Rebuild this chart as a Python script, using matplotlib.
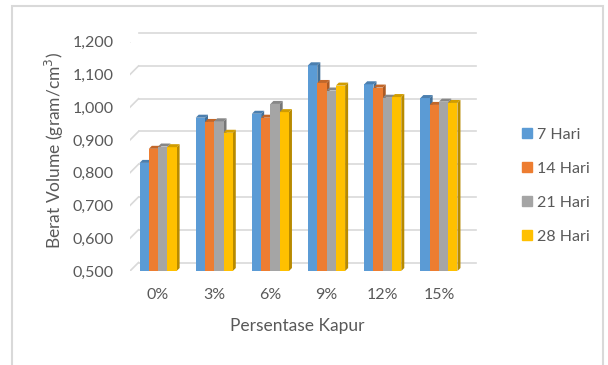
import matplotlib.pyplot as plt
from matplotlib.patches import Polygon, Patch, Rectangle
from matplotlib.transforms import offset_copy
import matplotlib.colors as mcolors
import numpy as np

plt.rcParams['font.family'] = ['Lato', 'DejaVu Sans']

categories = ['0%', '3%', '6%', '9%', '12%', '15%']
series = ['7 Hari', '14 Hari', '21 Hari', '28 Hari']
hari_7 = [0.830, 0.968, 0.980, 1.128, 1.070, 1.028]
hari_14 = [0.873, 0.955, 0.968, 1.074, 1.060, 1.007]
hari_21 = [0.880, 0.957, 1.010, 1.051, 1.029, 1.017]
hari_28 = [0.878, 0.922, 0.985, 1.066, 1.031, 1.013]
yticks = [0.5, 0.6, 0.7, 0.8, 0.9, 1.0, 1.1, 1.2]
ytick_labels = ['0,500', '0,600', '0,700', '0,800', '0,900', '1,000', '1,100', '1,200']

colors = ['#5B9BD5', '#ED7D31', '#A5A5A5', '#FFC000']
text_col = '#595959'
grid_col = '#D9D9D9'

W, H = 608, 365
fig = plt.figure(figsize=(W / 100, H / 100), dpi=100)
ax = fig.add_axes([130 / W, (H - 271) / H, 337 / W, (271 - 41.7) / H])
ax.set_xlim(-0.5, len(categories) - 0.5)
ax.set_ylim(0.5, 1.2)
for s in ax.spines.values():
    s.set_visible(False)
ax.tick_params(length=0, colors=text_col, labelsize=11.5)
ax.set_yticks(yticks)
ax.set_yticklabels(ytick_labels)
ax.tick_params(axis='y', pad=12)
ax.set_xticks(range(len(categories)))
ax.set_xticklabels(categories)
ax.tick_params(axis='x', pad=12)

# back wall gridlines, shifted up and right for depth
back = offset_copy(ax.transData, fig=fig, x=8.5, y=8.5, units='dots')
x0, x1 = ax.get_xlim()
for y in yticks:
    ax.plot([x0, x1], [y, y], color=grid_col, lw=1.2, transform=back,
            clip_on=False, zorder=0)
    # short diagonal linking the tick label to the back wall
    p0 = ax.transData.transform((x0, y))
    p1 = p0 + np.array([8.5, 8.5])
    ax.add_line(plt.Line2D([p0[0], p1[0]], [p0[1], p1[1]], color=grid_col,
                           lw=1.2, transform=None, zorder=0))

# 3D-looking clustered bars
data = [hari_7, hari_14, hari_21, hari_28]
w = 0.165
ppx = ax.bbox.width / (x1 - x0)
ppy = ax.bbox.height / (1.2 - 0.5)
dx, dy = 3 / ppx, 3 / ppy
x = np.arange(len(categories))
for k, vals in enumerate(data):
    c = np.array(mcolors.to_rgb(colors[k]))
    side = tuple(c * 0.72)
    top = tuple(c * 0.82)
    xs = x + (k - 1.5) * w
    ax.bar(xs, np.array(vals) - 0.5, bottom=0.5, width=w, color=colors[k],
           zorder=2 + k * 0.01)
    for xi, v in zip(xs, vals):
        l, r = xi - w / 2, xi + w / 2
        ax.add_patch(Polygon([(r, 0.5), (r + dx, 0.5 + dy), (r + dx, v + dy), (r, v)],
                             closed=True, color=side, lw=0, zorder=1.9 + k * 0.01))
        ax.add_patch(Polygon([(l, v), (l + dx, v + dy), (r + dx, v + dy), (r, v)],
                             closed=True, color=top, lw=0, zorder=2 + k * 0.01))

fig.text(54 / W, 1 - 150 / H, 'Berat Volume (gram/cm$^3$)', rotation=90,
         ha='center', va='center', color=text_col, fontsize=12.5)
fig.text(297 / W, 1 - 326 / H, 'Persentase Kapur', ha='center', va='center',
         color=text_col, fontsize=12.5)

handles = [Patch(color=c) for c in colors]
fig.legend(handles, series, loc='center left', bbox_to_anchor=(508 / W, 1 - 186 / H),
           frameon=False, handlelength=0.6, handleheight=0.6, handletextpad=0.3,
           labelspacing=1.25, fontsize=11.5, labelcolor=text_col)

# chart frame
fig.patches.append(Rectangle((12 / W, -0.05), (603 - 12) / W, 1.05 - 6 / H,
                             transform=fig.transFigure, fill=False,
                             edgecolor=grid_col, lw=1.5))

fig.savefig('out.png', dpi=100)
